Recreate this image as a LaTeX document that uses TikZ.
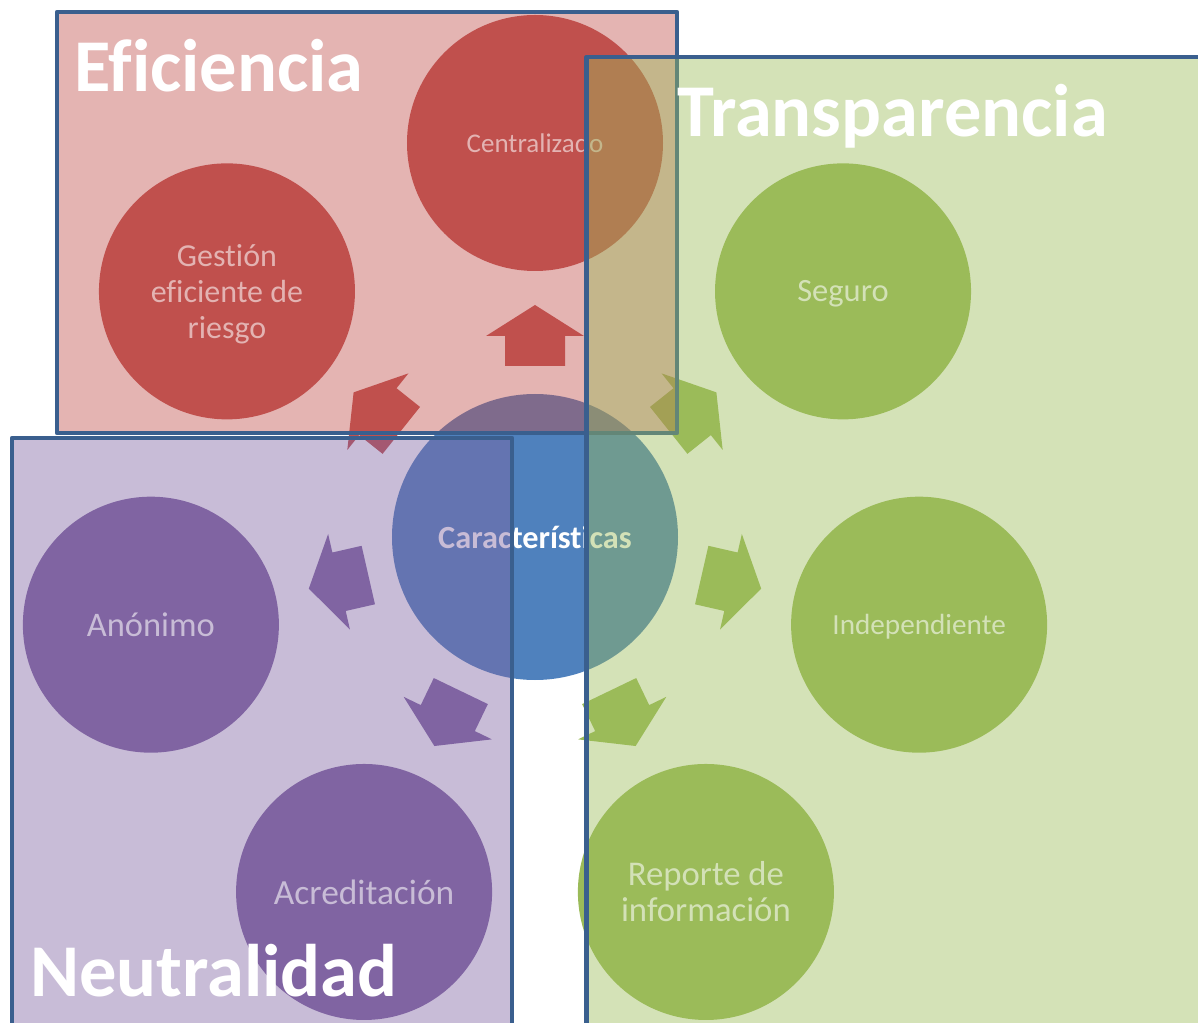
\documentclass[tikz,border=0pt]{standalone}
\usepackage{fontspec}
\setmainfont[Ligatures=NoCommon]{Carlito}
\definecolor{rojo}{HTML}{C0504D}
\definecolor{verde}{HTML}{9BBB59}
\definecolor{morado}{HTML}{8064A2}
\definecolor{azul}{HTML}{4F81BD}
\definecolor{borde}{HTML}{3A5F8E}
\tikzset{
  burbuja/.style={circle,minimum size=256pt,inner sep=0pt,align=center,text=white},
  caja/.style={draw=borde,line width=4.5pt,fill opacity=0.43,line join=round},
  titulo/.style={anchor=base west,inner sep=0pt,text=white,font=\bfseries\fontsize{74.5}{80}\selectfont}
}
\begin{document}
\begin{tikzpicture}[x=1pt,y=1pt]
        \useasboundingbox (-535,-485) rectangle (663,537);
        % centro
        \node[burbuja,minimum size=286pt,fill=azul,font=\bfseries\fontsize{32.3}{36}\selectfont] (centro) at (0,0) {Características};
        % circulos y flechas
        \foreach
        \ang/\col/\tam/\dy/\nom/\txt in {90/rojo/27/0/cent/Centralizado, 38.57/verde/32.5/-2/seg/Seguro,
          -12.86/verde/29.2/-2/indep/Independiente, -64.29/verde/34.7/0/rep/{Reporte de\\información},
          -115.71/morado/35.4/0/acred/Acreditación, -167.14/morado/34.5/0/anon/Anónimo,
          141.43/rojo/32/-3/gest/{Gestión\\eficiente de\\riesgo}} {
          \node[burbuja,fill=\col,font=\fontsize{\tam}{36}\selectfont] (\nom) at (\ang:394) {};
          \node[text=white,align=center,inner sep=0pt,font=\fontsize{\tam}{36}\selectfont] (\nom-txt) at ([yshift=\dy]\nom.center) {\txt};
          \fill[\col,rotate=\ang] (171,-30) -- (201,-30) -- (201,-49) -- (232,0) -- (201,49) -- (201,30) -- (171,30) -- cycle;
        }
        % cajas
        \path[caja,fill=rojo] (-478,104) rectangle (142,525);
        \path[caja,fill=morado] (-523,-520) rectangle (-23,99);
        \path[caja,fill=verde] (51.5,-520) rectangle (700,480);
        % titulos
        \node[titulo] (tefic) at (-461,445) {Eficiencia};
        \node[titulo] (ttrans) at (142,400) {Transparencia};
        \node[titulo] (tneut) at (-505,-459) {Neutralidad};
    \end{tikzpicture}
\end{document}
